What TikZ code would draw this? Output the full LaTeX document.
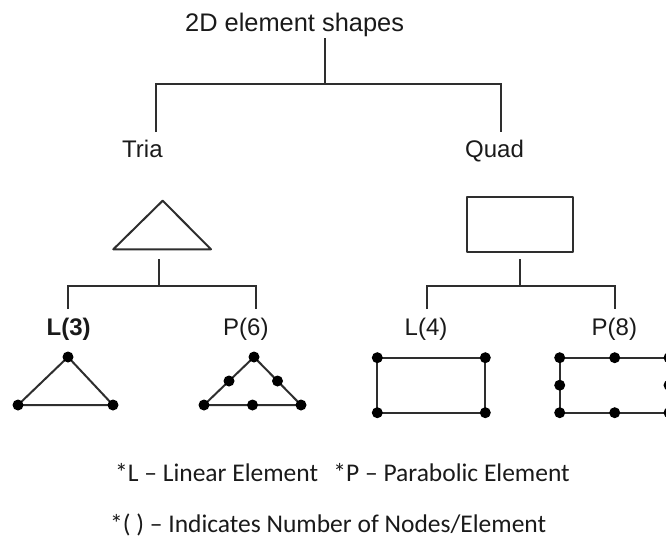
\documentclass[tikz,border=0pt]{standalone}
\usepackage{fontspec}
\usetikzlibrary{calc}
\setmainfont{Liberation Sans}
\newfontfamily\notefont{Carlito}
\definecolor{ink}{HTML}{1A1A1A}
\definecolor{wire}{HTML}{2E2E2E}
\begin{document}
\begin{tikzpicture}[x=1pt,y=-1pt,
  lbl/.style={inner sep=0pt,anchor=base west,text=ink,font=\fontsize{24}{28}\selectfont},
  note/.style={inner sep=0pt,anchor=base west,text=ink,font=\notefont\fontsize{25.5}{30}\selectfont},
  tree/.style={draw=wire,line width=2pt},
  outline/.style={draw=wire,line width=2pt,line join=round},
  dot/.style={circle,fill=black,inner sep=0pt,minimum size=11pt}]
\useasboundingbox (0,0) rectangle (666,541);
% labels
\node[lbl,font=\fontsize{25.4}{30}\selectfont] (root) at (185,31) {2D element shapes};
\node[lbl] (tria) at (122,157) {Tria};
\node[lbl] (quad) at (465,157) {Quad};
\node[lbl] (l3) at (46.5,335) {\bfseries L(3)};
\node[lbl] (p6) at (223,335) {P(6)};
\node[lbl] (l4) at (404.5,335) {L(4)};
\node[lbl] (p8) at (591.5,335) {P(8)};
% tree coordinates
\coordinate (r0) at (325,38);
\coordinate (r1) at (325,84);
\coordinate (t0) at (156,132);
\coordinate (q0) at (501,132);
\coordinate (a0) at (158.7,259);
\coordinate (a1) at (158.7,286);
\coordinate (aL) at (68,309);
\coordinate (aP) at (255.5,309);
\coordinate (b0) at (520,259);
\coordinate (b1) at (520,286);
\coordinate (bL) at (427,309);
\coordinate (bP) at (614.5,309);
\draw[tree] (r0) -- (r1);
\draw[tree] (t0) |- (r1) -| (q0);
\draw[tree] (a0) -- (a1);
\draw[tree] (aL) |- (a1) -| (aP);
\draw[tree] (b0) -- (b1);
\draw[tree] (bL) |- (b1) -| (bP);
% parent shapes
\draw[outline] (113.3,249.3) -- (162.7,200.7) -- (211,249.3) -- cycle;
\draw[outline] (466.7,196.7) rectangle (573,251.7);
% L(3)
\coordinate (l3a) at (68,357);
\coordinate (l3b) at (18,405);
\coordinate (l3c) at (113,405);
\draw[outline] (l3a) -- (l3b) -- (l3c) -- cycle;
\foreach \p in {l3a,l3b,l3c} \node[dot] at (\p) {};
% P(6)
\coordinate (p6a) at (254,357);
\coordinate (p6b) at (204,405);
\coordinate (p6c) at (301,405);
\draw[outline] (p6a) -- (p6b) -- (p6c) -- cycle;
\foreach \p in {p6a,p6b,p6c} \node[dot] at (\p) {};
\node[dot] at ($(p6a)!0.5!(p6b)$) {};
\node[dot] at ($(p6a)!0.5!(p6c)$) {};
\node[dot] at ($(p6b)!0.5!(p6c)$) {};
% L(4)
\draw[outline] (377.3,357.7) rectangle (485.3,412.7);
\foreach \x/\y in {377.3/357.7,485.3/357.7,377.3/412.7,485.3/412.7} \node[dot] at (\x,\y) {};
% P(8)
\draw[outline] (559.7,357.7) rectangle (669,412.7);
\foreach \x/\y in {559.7/357.7,614.7/357.7,669/357.7,559.7/385.2,669/385.2,559.7/412.7,614.7/412.7,669/412.7} \node[dot] at (\x,\y) {};
% notes
\node[note] (n1) at (115,481) {*L – Linear Element\hspace{0.6em}*P – Parabolic Element};
\node[note] (n2) at (110,532.5) {*( ) – Indicates Number of Nodes/Element};
\end{tikzpicture}
\end{document}
